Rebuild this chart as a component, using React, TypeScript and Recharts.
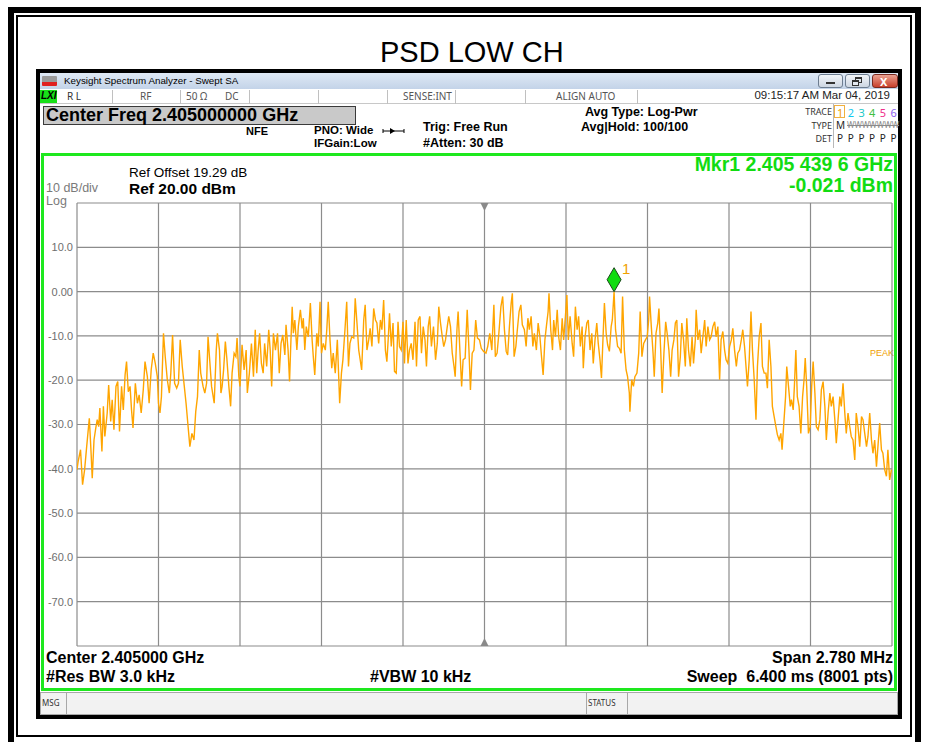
import { CartesianGrid, Line, LineChart, ReferenceDot, XAxis, YAxis } from "recharts";

// trace: offset from centre (kHz) and level (dBm)
const freqKHz = [
  -1390, -1386, -1378, -1371, -1364, -1357, -1348, -1343, -1338, -1332, -1326, -1321, -1316, -1312, -1305, -1300,
  -1295, -1287, -1282, -1275, -1270, -1264, -1257, -1251, -1245, -1238, -1232, -1226, -1221, -1215, -1209, -1204,
  -1199, -1191, -1184, -1178, -1171, -1164, -1158, -1150, -1144, -1137, -1130, -1123, -1116, -1112, -1107, -1102,
  -1095, -1089, -1082, -1075, -1070, -1064, -1057, -1050, -1044, -1038, -1031, -1024, -1018, -1011, -1005, -998,
  -991, -985, -979, -973, -968, -960, -954, -948, -943,
  -931, -922, -915, -911, -904, -899, -895, -890, -884, -879, -872, -866, -861, -854, -848, -844,
  -838, -834, -827, -820, -813, -809, -802, -795, -788, -782, -777, -772, -767, -761, -755, -750,
  -743, -736, -731, -726, -720, -713, -706, -700, -694, -688, -681, -677, -670, -665, -661, -656,
  -652, -647, -640, -635, -628, -622, -618, -613, -608, -601, -594, -588, -584, -579, -572, -567,
  -561, -556, -550, -543, -538, -533, -527, -521, -516, -509, -502, -494,
  -488, -483, -476, -470, -464, -459, -453, -446, -441, -435, -429, -424, -419, -412, -407, -401,
  -395, -390, -384, -378, -372, -367, -361, -355, -350, -344, -338, -333, -328, -324, -318, -312,
  -307, -301, -295, -290, -284, -278, -273, -267, -261, -256, -250, -244, -237, -232, -226, -220,
  -215, -209, -203, -198, -192, -187, -181, -174, -167, -161, -156, -150, -144, -139, -133, -127,
  -122, -116, -110, -104, -100, -94, -90, -84, -78, -73, -66, -59, -53, -48, -42, -36, -30, -24,
  -17, -11, -3, 5, 11, 18, 25, 32, 37, 43, 49, 56, 62, 68, 74, 79,
  85, 91, 95, 101, 107, 112, 118, 124, 129, 136, 142, 148, 153, 159, 165, 170,
  177, 183, 189, 194, 200, 206, 211, 217, 220, 226, 232, 236, 242, 248, 253, 259,
  265, 270, 276, 281, 286, 292, 299, 304, 310, 316, 321, 327, 333, 337, 343, 349,
  354, 360, 366, 371, 377, 383, 388, 394, 399, 404, 409, 415, 420, 426,
  432, 436, 442, 447, 454, 460, 466, 471, 477, 483, 488, 494, 496, 502, 508, 513,
  520, 526, 531, 537, 543, 549, 555, 560, 563, 569, 575, 579, 585, 591, 595, 601,
  606, 612, 618, 623, 629, 635, 640, 646, 651, 656, 662, 668, 673, 679, 685, 690,
  696, 702, 708, 713, 719, 722, 728, 734, 739, 745, 751, 756, 762, 768, 773, 779,
  785, 790, 796, 802, 807, 813, 819, 824, 830, 836, 842, 847, 853, 859, 864, 870,
  876, 881, 887,
  897, 903, 909, 914, 920, 926, 931, 937, 943, 948, 954, 960, 965, 971, 977, 982,
  988, 994, 999, 1005, 1011, 1015, 1021, 1027, 1031, 1037, 1043, 1047, 1053, 1057, 1062, 1067,
  1073, 1079, 1085, 1090, 1094, 1099, 1105, 1111, 1116, 1121, 1127, 1132, 1138, 1144, 1149, 1155,
  1161, 1166, 1172, 1178, 1183, 1189, 1195, 1200, 1206, 1212, 1217, 1223, 1229, 1234, 1240, 1246,
  1251, 1257, 1263, 1268, 1274, 1280, 1286, 1291, 1297, 1303, 1308, 1314, 1320, 1325, 1331, 1337,
  1342, 1348, 1354, 1359, 1365, 1371, 1376, 1382, 1388,
];

const levelDbm = [
  -40.2, -38.3, -35.7, -43.6, -40.2, -35.0, -28.6, -35.0, -42.1, -33.5, -30.8, -28.9, -30.5, -26.3, -36.1, -25.9,
  -32.7, -27.4, -21.1, -29.3, -24.4, -31.2, -21.4, -20.3, -31.6, -21.4, -26.7, -18.8, -15.8, -22.6, -21.4, -26.7,
  -30.8, -20.7, -25.2, -23.3, -27.4, -22.2, -15.8, -19.2, -25.2, -17.7, -13.9, -16.2, -19.2, -25.2, -27.4, -23.7,
  -9.4, -14.7, -19.9, -22.9, -18.4, -9.8, -20.7, -21.8, -20.7, -10.9, -16.9, -21.4, -25.2, -30.5, -35.0, -32.0,
  -33.5, -27.1, -23.7, -13.2, -18.4, -21.4, -22.9, -20.7, -10.2,
  -21.4, -25.2, -13.2, -9.4, -13.2, -22.9, -21.4, -17.7, -11.3, -15.0, -21.4, -25.9, -18.4, -13.9, -14.7, -10.5,
  -19.2, -21.4, -12.0, -17.7, -13.2, -22.9, -18.4, -11.7, -19.2, -8.6, -18.4, -13.2, -9.4, -16.2, -18.4, -11.7,
  -16.9, -8.6, -13.2, -21.4, -9.4, -13.2, -9.4, -18.4, -11.7, -9.8, -14.3, -7.5, -13.2, -20.3, -12.4, -3.4,
  -9.4, -6.4, -13.2, -7.9, -4.1, -8.3, -6.0, -13.2, -7.9, -10.2, -2.6, -10.9, -14.7, -18.8, -9.4, -12.4,
  -2.3, -13.9, -11.7, -13.2, -8.6, -2.3, -10.9, -17.3, -13.9, -18.4, -10.9, -25.2,
  -18.4, -15.4, -8.6, -2.3, -16.9, -11.7, -10.2, -10.5, -1.5, -7.1, -13.2, -15.4, -17.7, -6.4, -3.0, -13.2,
  -10.9, -8.3, -12.4, -3.8, -6.4, -7.1, -11.7, -6.4, -8.6, -1.9, -13.2, -15.8, -10.2, -4.9, -12.4, -7.1,
  -18.0, -18.4, -6.8, -12.4, -13.2, -6.8, -16.2, -6.4, -16.2, -13.2, -11.7, -15.4, -6.8, -16.9, -6.4, -5.6,
  -13.9, -7.9, -10.9, -16.9, -7.9, -5.6, -12.4, -7.9, -15.4, -11.7, -3.4, -7.1, -10.2, -12.4, -10.9, -7.9,
  -5.6, -7.9, -13.9, -16.9, -19.2, -8.6, -4.5, -13.2, -21.4, -15.4, -15.0, -4.1, -13.2, -22.2, -13.9, -13.2, -6.4, -10.5,
  -10.9, -12.8, -13.5, -13.9, -12.4, -9.4, -13.2, -3.0, -14.7, -13.9, -9.4, -3.4, -1.1, -8.6, -13.5, -14.3,
  -7.9, -2.6, -0.4, -14.7, -12.4, -8.6, -4.5, -3.0, -7.5, -8.6, -12.4, -6.0, -8.6, -5.6, -12.4, -9.4,
  -13.2, -7.1, -10.2, -14.3, -18.8, -10.9, -7.9, -4.5, -0.4, -8.6, -13.2, -6.4, -10.2, -4.1, -10.2, -13.2,
  -6.0, -10.9, -5.6, -0.8, -10.9, -5.6, -11.7, -14.7, -3.4, -8.6, -5.6, -12.4, -7.9, -17.3, -10.2, -7.1,
  -6.4, -13.2, -9.4, -16.2, -10.9, -7.1, -11.7, -15.4, -19.5, -10.9, -2.6, -9.4, -12.0, -13.5,
  -7.9, -6.4, -0.02, -8.6, -12.4, -12.8, -13.9, -1.1, -13.2, -17.7, -19.2, -22.9, -27.1, -19.9, -21.4, -19.2,
  -18.4, -13.9, -4.5, -14.7, -11.7, -10.9, -10.2, -6.4, -1.1, -7.9, -13.9, -19.2, -9.4, -7.1, -3.8, -13.2,
  -22.9, -13.9, -6.8, -9.4, -13.2, -19.2, -13.2, -10.9, -7.1, -6.4, -19.2, -14.7, -7.1, -10.9, -16.9, -6.0,
  -13.2, -16.9, -10.2, -16.2, -10.9, -4.1, -10.9, -8.6, -13.9, -10.2, -6.4, -12.4, -7.9, -10.9, -10.2, -7.9,
  -6.8, -10.2, -7.9, -19.9, -10.9, -9.0, -13.2, -15.4, -16.2, -12.4, -10.9, -8.3, -13.2, -16.9, -13.9, -13.2,
  -10.9, -8.6, -12.4,
  -21.4, -15.4, -4.5, -13.2, -19.9, -28.9, -16.9, -10.2, -7.1, -16.9, -18.4, -18.4, -21.8, -10.9, -16.9, -25.9,
  -28.2, -30.5, -32.3, -33.5, -32.0, -35.7, -29.7, -23.7, -16.9, -21.4, -25.9, -24.4, -26.7, -21.4, -13.2, -23.7,
  -25.9, -32.0, -23.7, -19.9, -15.0, -21.4, -32.0, -30.5, -21.4, -15.8, -22.9, -30.5, -31.2, -28.9, -22.2, -20.3,
  -25.9, -33.5, -27.4, -22.9, -25.9, -23.7, -28.9, -34.2, -28.9, -23.7, -25.9, -20.7, -27.4, -32.0, -27.4, -30.5,
  -32.7, -33.5, -38.0, -27.4, -30.5, -35.0, -28.2, -28.9, -32.0, -35.0, -32.7, -27.4, -33.5, -36.5, -33.5, -39.5,
  -35.0, -29.7, -35.7, -36.5, -40.2, -41.7, -35.7, -42.5, -40.2,
];

const yTicks = [20, 10, 0, -10, -20, -30, -40, -50, -60, -70, -80];
const xTicks = [-1390, -1112, -834, -556, -278, 0, 278, 556, 834, 1112, 1390];
const markerKHz = 442;
const markerDbm = -0.021;
const traceNums = ["1", "2", "3", "4", "5", "6"];
const traceColors = ["#f0a000", "#10c8f0", "#20c8c8", "#40c040", "#f0308c", "#8a5cf0"];

const data = freqKHz.map((f, i) => ({ f, v: levelDbm[i] }));

const ARIAL = "'Liberation Sans', Arial, sans-serif";
const UI = "'Noto Sans', sans-serif";

function T({ x, y, size, children, color = "#000", bold = false, right = false, font = ARIAL, italic = false }: any) {
  const pos: any = right ? { right: 925 - x } : { left: x };
  return (
    <div
      style={{
        position: "absolute",
        top: y - size / 2,
        ...pos,
        fontSize: size,
        lineHeight: `${size}px`,
        fontFamily: font,
        fontWeight: bold ? 700 : 400,
        fontStyle: italic ? "italic" : "normal",
        color,
        whiteSpace: "pre",
      }}
    >
      {children}
    </div>
  );
}

function Box({ x, y, w, h, style }: any) {
  return <div style={{ position: "absolute", left: x, top: y, width: w, height: h, boxSizing: "border-box", ...style }} />;
}

const Diamond = (props: any) => {
  const { cx, cy } = props;
  return (
    <g>
      <polygon
        points={`${cx},${cy} ${cx - 7},${cy - 12} ${cx},${cy - 24} ${cx + 7},${cy - 12}`}
        fill="#10dc10"
        stroke="#1a4a1a"
        strokeWidth={1}
      />
      <text x={cx + 8} y={cy - 18} fill="#f0a000" fontSize={15} fontFamily={ARIAL}>
        1
      </text>
    </g>
  );
};

const TriDown = (props: any) => {
  const { cx, cy } = props;
  return <polygon points={`${cx - 4},${cy} ${cx + 4},${cy} ${cx},${cy + 8}`} fill="#8a8a8a" />;
};

const TriUp = (props: any) => {
  const { cx, cy } = props;
  return <polygon points={`${cx - 4},${cy} ${cx + 4},${cy} ${cx},${cy - 8}`} fill="#8a8a8a" />;
};

const sepXs = [112, 180, 249, 318, 387, 455, 525, 637];

export default function App() {
  return (
    <div style={{ position: "absolute", left: 0, top: 0, width: 925, height: 742, overflow: "hidden", background: "#fff" }}>
      {/* outer double frame */}
      <Box x={8} y={7} w={913} h={745} style={{ border: "6px solid #000" }} />
      <Box x={16} y={15} w={896} h={722} style={{ border: "2px solid #000" }} />

      <T x={380} y={52} size={29}>PSD LOW CH</T>

      {/* analyzer window */}
      <Box x={36} y={69} w={866} h={650} style={{ background: "#000" }} />
      <Box x={40} y={73} w={858} h={642} style={{ background: "#fff" }} />
      <Box x={40} y={73} w={858} h={16} style={{ background: "linear-gradient(#dfe9f5, #c3d3e8)" }} />
      <Box x={42} y={76} w={15} h={10} style={{ background: "linear-gradient(#9a9a9a 0 60%, #e02020 60% 100%)", borderRadius: 1 }} />
      <T x={64} y={81} size={9.8}>Keysight Spectrum Analyzer - Swept SA</T>
      <Box x={818} y={74} w={25} h={14} style={{ border: "1px solid #6d7d90", borderRadius: 3, background: "linear-gradient(#f2f5f9, #cdd6e2)" }} />
      <Box x={826} y={82} w={9} h={2} style={{ background: "#333" }} />
      <Box x={845} y={74} w={25} h={14} style={{ border: "1px solid #6d7d90", borderRadius: 3, background: "linear-gradient(#f2f5f9, #cdd6e2)" }} />
      <Box x={855} y={77} w={7} h={6} style={{ border: "1px solid #333", borderTopWidth: 2 }} />
      <Box x={852} y={80} w={7} h={6} style={{ border: "1px solid #333", borderTopWidth: 2, background: "#e4e9f0" }} />
      <Box x={872} y={74} w={26} h={14} style={{ border: "1px solid #7a2a20", borderRadius: 3, background: "linear-gradient(#eaa090, #c8402c)" }} />
      <T x={880} y={81} size={11} bold color="#fff" font={UI}>X</T>

      {/* status row */}
      <Box x={40} y={89} w={858} h={15} style={{ borderBottom: "1px solid #c8c8c8" }} />
      <Box x={40} y={90} w={17} h={13} style={{ background: "#18e018" }} />
      <T x={41} y={96} size={10} bold italic>LXI</T>
      {sepXs.map((sx) => (
        <Box key={sx} x={sx} y={90} w={1} h={14} style={{ background: "#c0c0c0" }} />
      ))}
      <T x={67} y={96} size={10} color="#333" font={UI}>R L</T>
      <T x={140} y={96} size={10} color="#555" font={UI}>RF</T>
      <T x={186} y={96} size={10} color="#555" font={UI}>50 Ω</T>
      <T x={225} y={96} size={10} color="#555" font={UI}>DC</T>
      <T x={403} y={96} size={10} color="#555" font={UI}>SENSE:INT</T>
      <T x={556} y={96} size={10} color="#555" font={UI}>ALIGN AUTO</T>
      <T x={890} y={96} size={11.5} right color="#222">09:15:17 AM Mar 04, 2019</T>

      {/* settings panel */}
      <Box x={43} y={106} w={313} h={19} style={{ background: "#c9c9c9", border: "1px solid #3a3a3a" }} />
      <T x={46} y={115} size={18} bold>Center Freq 2.405000000 GHz</T>
      <T x={246} y={131} size={11} bold>NFE</T>
      <T x={314} y={131} size={11.5} bold>PNO: Wide</T>
      <T x={314} y={144} size={11.5} bold>IFGain:Low</T>
      <svg style={{ position: "absolute", left: 382, top: 126 }} width={24} height={10}>
        <line x1={1} y1={5} x2={22} y2={5} stroke="#000" strokeWidth={1} />
        <polygon points="8,2 8,8 13,5" fill="#000" />
        <line x1={1} y1={3} x2={1} y2={7} stroke="#000" />
        <line x1={22} y1={3} x2={22} y2={7} stroke="#000" />
      </svg>
      <T x={423} y={127} size={12.5} bold>Trig: Free Run</T>
      <T x={423} y={143} size={12.5} bold>#Atten: 30 dB</T>
      <T x={585} y={112} size={12.5} bold>Avg Type: Log-Pwr</T>
      <T x={581} y={127} size={12.5} bold>Avg|Hold: 100/100</T>

      <Box x={833} y={104} w={65} h={44} style={{ borderLeft: "1px solid #b8b8b8" }} />
      <T x={832} y={111} size={9} right color="#333" font={UI}>TRACE</T>
      <T x={832} y={125} size={9} right color="#333" font={UI}>TYPE</T>
      <T x={832} y={138} size={9} right color="#333" font={UI}>DET</T>
      <Box x={834} y={105} w={11} h={13} style={{ border: "1px solid #f0b040" }} />
      {traceNums.map((n, i) => (
        <T key={n} x={837 + i * 10.7} y={112} size={11} color={traceColors[i]} font={UI}>{n}</T>
      ))}
      <T x={836} y={125} size={10} color="#222" font={UI}>M</T>
      <T x={847} y={125} size={8} color="#8a8a8a" font={UI}>
        <span style={{ textDecoration: "line-through" }}>WWWWWWW</span>
      </T>
      {traceNums.map((n, i) => (
        <T key={"d" + n} x={837 + i * 10.7} y={138} size={10} color="#222" font={UI}>P</T>
      ))}

      {/* green display frame */}
      <Box x={41} y={153} w={856} h={538} style={{ border: "3px solid #1ee81e" }} />
      <T x={129} y={173} size={13.5}>Ref Offset 19.29 dB</T>
      <T x={129} y={189} size={15.5} bold>Ref 20.00 dBm</T>
      <T x={46} y={188} size={12.5} color="#7a7a7a">10 dB/div</T>
      <T x={46} y={201} size={12.5} color="#7a7a7a">Log</T>
      <T x={893} y={165} size={19.5} bold right color="#12dc12">Mkr1 2.405 439 6 GHz</T>
      <T x={893} y={186} size={19.5} bold right color="#12dc12">-0.021 dBm</T>
      <T x={870} y={353} size={9} color="#f0a000">PEAK</T>

      <T x={46} y={658} size={16} bold>Center 2.405000 GHz</T>
      <T x={893} y={658} size={16} bold right>Span 2.780 MHz</T>
      <T x={46} y={677} size={16} bold>#Res BW 3.0 kHz</T>
      <T x={370} y={677} size={16} bold>#VBW 10 kHz</T>
      <T x={893} y={677} size={16} bold right>Sweep  6.400 ms (8001 pts)</T>

      {/* message bar */}
      <Box x={40} y={692} w={858} h={23} style={{ background: "#f2f2f2", border: "1px solid #a8a8a8" }} />
      <Box x={66} y={692} w={1} h={23} style={{ background: "#a8a8a8" }} />
      <Box x={586} y={692} w={1} h={23} style={{ background: "#a8a8a8" }} />
      <Box x={627} y={692} w={1} h={23} style={{ background: "#a8a8a8" }} />
      <T x={42} y={703} size={8} color="#333" font={UI}>MSG</T>
      <T x={588} y={703} size={8} color="#333" font={UI}>STATUS</T>

      <div style={{ position: "absolute", left: 0, top: 0 }}>
        <LineChart width={925} height={742} data={data} margin={{ top: 203, right: 33, bottom: 95, left: 37 }}>
          <CartesianGrid stroke="#8c8c8c" strokeWidth={1.2} />
          <XAxis
            dataKey="f"
            type="number"
            domain={[-1390, 1390]}
            ticks={xTicks}
            interval={0}
            allowDataOverflow
            height={1}
            axisLine={false}
            tickLine={false}
            tickFormatter={() => ""}
          />
          <YAxis
            type="number"
            domain={[-80, 20]}
            ticks={yTicks}
            interval={0}
            allowDataOverflow
            width={40}
            tickSize={0}
            tickMargin={4}
            axisLine={false}
            tickLine={false}
            tick={{ fill: "#6e6e6e", fontSize: 11, fontFamily: ARIAL }}
            tickFormatter={(v: number) => (v === 20 || v === -80 ? "" : v === 0 ? "0.00" : v.toFixed(1))}
          />
          <Line
            type="linear"
            dataKey="v"
            stroke="#ffa500"
            strokeWidth={1.4}
            dot={false}
            isAnimationActive={false}
          />
          <ReferenceDot x={0} y={20} r={4} shape={TriDown} />
          <ReferenceDot x={0} y={-80} r={4} shape={TriUp} />
          <ReferenceDot x={markerKHz} y={markerDbm} r={6} shape={Diamond} />
        </LineChart>
      </div>
    </div>
  );
}
